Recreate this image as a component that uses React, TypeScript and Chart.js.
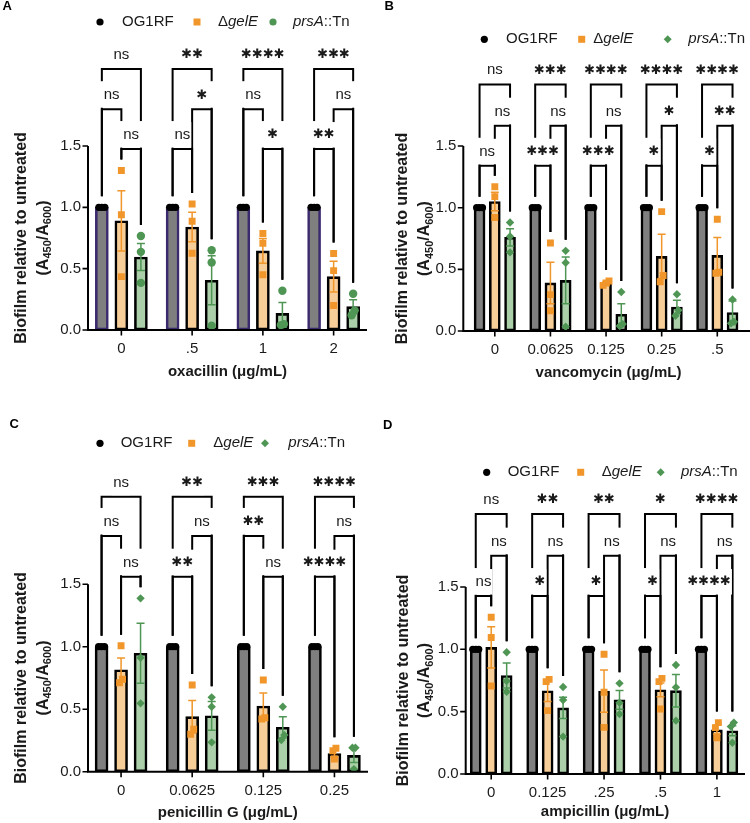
import React, { useEffect, useRef } from 'react';
import { Chart, registerables } from 'chart.js';

Chart.register(...registerables);

const FONT = '"Liberation Sans", Arial, Helvetica, sans-serif';
const STAR_FONT = '"DejaVu Sans", sans-serif';
Chart.defaults.font.family = FONT;

// ---------- shared ----------
const LEGEND_PARTS: [string, boolean][][] = [
  [['OG1RF', false]],
  [['Δ', false], ['gelE', true]],
  [['prsA', true], ['::Tn', false]],
];
const Y_TICKS = [0, 0.5, 1.0, 1.5];
const Y_TICK_LABELS = ['0.0', '0.5', '1.0', '1.5'];
const Y_TITLE_LINE1 = 'Biofilm relative to untreated';
const Y_TITLE_LINE2: [string, boolean][] = [['(A', false], ['450', true], ['/A', false], ['600', true], [')', false]];

// ---------- A: oxacillin ----------
const A_CATEGORIES = ['0', '.5', '1', '2'];
const A_OG_MEAN = [1, 1, 1, 1];
const A_OG_SEM = [0, 0, 0, 0];
const A_OG_POINTS = [[1, 1, 1], [1, 1, 1], [1, 1, 1], [1, 1, 1]];
const A_GEL_MEAN = [0.89, 0.84, 0.645, 0.435];
const A_GEL_SEM = [0.245, 0.12, 0.1, 0.125];
const A_GEL_POINTS = [[1.3, 0.94, 0.435], [1.027, 0.887, 0.626], [0.787, 0.707, 0.45], [0.624, 0.484, 0.2]];
const A_PRS_MEAN = [0.595, 0.405, 0.135, 0.19];
const A_PRS_SEM = [0.11, 0.2, 0.09, 0.057];
const A_PRS_POINTS = [[0.766, 0.637, 0.384], [0.65, 0.55, 0.035], [0.32, 0.04, 0.048], [0.296, 0.12, 0.16]];
const A_SIG_OG_PRS = ['ns', '**', '****', '***'];
const A_SIG_OG_GEL = ['ns', 'ns', 'ns', '**'];
const A_SIG_GEL_PRS = ['ns', '*', '*', 'ns'];
const A_OG_GEL_TIER = [2, 3, 2, 3];
const A_TIERS = [2.128, 1.8, 1.475];

// ---------- B: vancomycin ----------
const B_CATEGORIES = ['0', '0.0625', '0.125', '0.25', '.5'];
const B_OG_MEAN = [1, 1, 1, 1, 1];
const B_OG_SEM = [0, 0, 0, 0, 0];
const B_OG_POINTS = [[1, 1, 1], [1, 1, 1], [1, 1, 1], [1, 1, 1], [1, 1, 1]];
const B_GEL_MEAN = [1.05, 0.39, 0.385, 0.605, 0.613];
const B_GEL_SEM = [0.075, 0.168, 0.012, 0.18, 0.146];
const B_GEL_POINTS = [[1.17, 1.09, 0.92], [0.713, 0.295, 0.164], [0.405, 0.39, 0.37], [0.968, 0.45, 0.4], [0.906, 0.477, 0.469]];
const B_PRS_MEAN = [0.76, 0.41, 0.135, 0.195, 0.15];
const B_PRS_SEM = [0.07, 0.19, 0.085, 0.055, 0.094];
const B_PRS_POINTS = [[0.88, 0.767, 0.638], [0.65, 0.553, 0.035], [0.316, 0.04, 0.056], [0.298, 0.169, 0.123], [0.255, 0.075, 0.062]];
const B_SIG_OG_PRS = ['ns', '***', '****', '****', '****'];
const B_SIG_OG_GEL = ['ns', '***', '***', '*', '*'];
const B_SIG_GEL_PRS = ['ns', 'ns', 'ns', '*', '**'];
const B_OG_GEL_TIER = [3, 3, 3, 3, 3];
const B_TIERS = [2.0, 1.665, 1.34];

// ---------- C: penicillin G ----------
const C_CATEGORIES = ['0', '0.0625', '0.125', '0.25'];
const C_OG_MEAN = [1, 1, 1, 1];
const C_OG_SEM = [0, 0, 0, 0];
const C_OG_POINTS = [[1, 1, 1], [1, 1, 1], [1, 1, 1], [1, 1, 1]];
const C_GEL_MEAN = [0.815, 0.44, 0.525, 0.145];
const C_GEL_SEM = [0.095, 0.13, 0.105, 0.03];
const C_GEL_POINTS = [[1.008, 0.712, 0.739], [0.693, 0.299, 0.339], [0.733, 0.421, 0.432], [0.187, 0.101, 0.168]];
const C_PRS_MEAN = [0.947, 0.447, 0.355, 0.13];
const C_PRS_SEM = [0.24, 0.115, 0.085, 0.057];
const C_PRS_POINTS = [[1.387, 0.912, 0.547], [0.595, 0.52, 0.235], [0.52, 0.293, 0.253], [0.192, 0.192, 0.021]];
const C_SIG_OG_PRS = ['ns', '**', '***', '****'];
const C_SIG_OG_GEL = ['ns', '**', '**', '****'];
const C_SIG_GEL_PRS = ['ns', 'ns', 'ns', 'ns'];
const C_OG_GEL_TIER = [2, 3, 2, 3];
const C_TIERS = [2.2, 1.886, 1.56];

// ---------- D: ampicillin ----------
const D_CATEGORIES = ['0', '0.125', '.25', '.5', '1'];
const D_OG_MEAN = [1, 1, 1, 1, 1];
const D_OG_SEM = [0, 0, 0, 0, 0];
const D_OG_POINTS = [[1, 1, 1], [1, 1, 1], [1, 1, 1], [1, 1, 1], [1, 1, 1]];
const D_GEL_MEAN = [1.015, 0.667, 0.665, 0.675, 0.355];
const D_GEL_SEM = [0.165, 0.085, 0.17, 0.055, 0.035];
const D_GEL_POINTS = [[1.257, 1.094, 0.706], [0.759, 0.741, 0.508], [0.96, 0.655, 0.374], [0.767, 0.741, 0.521], [0.412, 0.372, 0.291]];
const D_PRS_MEAN = [0.79, 0.53, 0.595, 0.668, 0.347];
const D_PRS_SEM = [0.1, 0.085, 0.075, 0.13, 0.04];
const D_PRS_POINTS = [[0.976, 0.746, 0.66], [0.698, 0.594, 0.3], [0.727, 0.572, 0.481], [0.874, 0.695, 0.428], [0.412, 0.38, 0.251]];
const D_SIG_OG_PRS = ['ns', '**', '**', '*', '****'];
const D_SIG_OG_GEL = ['ns', '*', '*', '*', '****'];
const D_SIG_GEL_PRS = ['ns', 'ns', 'ns', 'ns', 'ns'];
const D_OG_GEL_TIER = [3, 3, 3, 3, 3];
const D_TIERS = [2.085, 1.751, 1.427];

// ---------- styles ----------
const POINT_COLORS = ['#000000', '#F0962A', '#4F9655'];
const BAR_FILLS = ['#7F7F7F', '#F8CE98', '#ABD0A9'];
const ERR_COLORS = ['#000000', '#F0962A', '#4F9655'];
const TEXT = '#1a1a1a';
const Y_MAX = 2.5;

type Spec = {
  letter: string; letterX: number; letterY: number;
  left: number; top: number; w: number; h: number;
  axisX: number; axisRight: number; areaLeft: number; areaRight: number; bottom: number; ppu: number;
  categories: string[]; xTitle: string; xTitleY: number;
  means: number[][]; sems: number[][]; points: number[][][];
  sigTop: string[]; sigOgGel: string[]; sigGelPrs: string[]; ogGelTier: number[]; tiers: number[];
  legendY: number; legendX: number[]; titleX: number[];
  barStep: number; barPx: number; prsShape: string; ogBorder: string;
};

const PANELS: Spec[] = [
  {
    letter: 'A', letterX: 2.5, letterY: 6.5, left: 0, top: 0, w: 375, h: 415,
    axisX: 88, axisRight: 367, areaLeft: 86, areaRight: 369, bottom: 330, ppu: 122.67,
    categories: A_CATEGORIES, xTitle: 'oxacillin (μg/mL)', xTitleY: 372,
    means: [A_OG_MEAN, A_GEL_MEAN, A_PRS_MEAN], sems: [A_OG_SEM, A_GEL_SEM, A_PRS_SEM],
    points: [A_OG_POINTS, A_GEL_POINTS, A_PRS_POINTS],
    sigTop: A_SIG_OG_PRS, sigOgGel: A_SIG_OG_GEL, sigGelPrs: A_SIG_GEL_PRS, ogGelTier: A_OG_GEL_TIER, tiers: A_TIERS,
    legendY: 22, legendX: [100, 122, 197, 218, 273, 293], titleX: [21.7, 43.3],
    barStep: 0.276, barPx: 13, prsShape: 'circle', ogBorder: '#3C2A6E',
  },
  {
    letter: 'B', letterX: 9.5, letterY: 6.5, left: 375, top: 0, w: 375, h: 415,
    axisX: 88.3, axisRight: 375, areaLeft: 92, areaRight: 375, bottom: 331, ppu: 123.3,
    categories: B_CATEGORIES, xTitle: 'vancomycin (μg/mL)', xTitleY: 373.3,
    means: [B_OG_MEAN, B_GEL_MEAN, B_PRS_MEAN], sems: [B_OG_SEM, B_GEL_SEM, B_PRS_SEM],
    points: [B_OG_POINTS, B_GEL_POINTS, B_PRS_POINTS],
    sigTop: B_SIG_OG_PRS, sigOgGel: B_SIG_OG_GEL, sigGelPrs: B_SIG_GEL_PRS, ogGelTier: B_OG_GEL_TIER, tiers: B_TIERS,
    legendY: 39.3, legendX: [109.3, 131, 206.7, 218.3, 292.7, 313.3], titleX: [28, 50],
    barStep: 0.274, barPx: 11, prsShape: 'rectRot', ogBorder: '#000000',
  },
  {
    letter: 'C', letterX: 9.5, letterY: 9.5, left: 0, top: 415, w: 375, h: 408,
    axisX: 88, axisRight: 368, areaLeft: 85.5, areaRight: 370, bottom: 356.7, ppu: 125,
    categories: C_CATEGORIES, xTitle: 'penicillin G (μg/mL)', xTitleY: 398,
    means: [C_OG_MEAN, C_GEL_MEAN, C_PRS_MEAN], sems: [C_OG_SEM, C_GEL_SEM, C_PRS_SEM],
    points: [C_OG_POINTS, C_GEL_POINTS, C_PRS_POINTS],
    sigTop: C_SIG_OG_PRS, sigOgGel: C_SIG_OG_GEL, sigGelPrs: C_SIG_GEL_PRS, ogGelTier: C_OG_GEL_TIER, tiers: C_TIERS,
    legendY: 28.3, legendX: [100, 120.7, 191.7, 213.3, 265, 288.3], titleX: [21.7, 43.3],
    barStep: 0.274, barPx: 13, prsShape: 'rectRot', ogBorder: '#000000',
  },
  {
    letter: 'D', letterX: 8, letterY: 10, left: 375, top: 415, w: 375, h: 408,
    axisX: 90.7, axisRight: 370, areaLeft: 88, areaRight: 372, bottom: 359, ppu: 124.7,
    categories: D_CATEGORIES, xTitle: 'ampicillin (μg/mL)', xTitleY: 396.7,
    means: [D_OG_MEAN, D_GEL_MEAN, D_PRS_MEAN], sems: [D_OG_SEM, D_GEL_SEM, D_PRS_SEM],
    points: [D_OG_POINTS, D_GEL_POINTS, D_PRS_POINTS],
    sigTop: D_SIG_OG_PRS, sigOgGel: D_SIG_OG_GEL, sigGelPrs: D_SIG_GEL_PRS, ogGelTier: D_OG_GEL_TIER, tiers: D_TIERS,
    legendY: 57.3, legendX: [111.7, 132.7, 205.7, 226.7, 285.7, 306], titleX: [28.3, 50],
    barStep: 0.274, barPx: 11, prsShape: 'rectRot', ogBorder: '#000000',
  },
];

function jitterOffsets(vals: number[], tol: number): number[] {
  const idx = vals.map((_, i) => i).sort((a, b) => vals[a] - vals[b]);
  const res = new Array(vals.length).fill(0);
  let start = 0;
  while (start < idx.length) {
    let end = start;
    while (end + 1 < idx.length && vals[idx[end + 1]] - vals[idx[end]] < tol) end++;
    const k = end - start + 1;
    for (let j = start; j <= end; j++) res[idx[j]] = j - start - (k - 1) / 2;
    start = end + 1;
  }
  return res;
}

function drawMarker(ctx: CanvasRenderingContext2D, shape: string, x: number, y: number, color: string) {
  ctx.save();
  ctx.fillStyle = color;
  ctx.beginPath();
  if (shape === 'circle') ctx.arc(x, y, 3.6, 0, Math.PI * 2);
  else if (shape === 'rect') ctx.rect(x - 3.5, y - 3.5, 7, 7);
  else { ctx.moveTo(x, y - 4); ctx.lineTo(x + 4, y); ctx.lineTo(x, y + 4); ctx.lineTo(x - 4, y); ctx.closePath(); }
  ctx.fill();
  ctx.restore();
}

function drawRich(ctx: CanvasRenderingContext2D, parts: [string, boolean][], x: number, y: number, size: number) {
  let cx = x;
  for (const [t, it] of parts) {
    ctx.font = `${it ? 'italic ' : ''}${size}px ${FONT}`;
    ctx.fillText(t, cx, y);
    cx += ctx.measureText(t).width;
  }
}

function makePlugin(spec: Spec) {
  return {
    id: 'prismDeco' + spec.letter,
    afterDatasetDraw(chart: any, args: any) {
      const k = args.index;
      if (k > 2) return;
      const ctx: CanvasRenderingContext2D = chart.ctx;
      const y = chart.scales.y;
      ctx.save();
      ctx.strokeStyle = ERR_COLORS[k];
      ctx.lineWidth = 1.5;
      args.meta.data.forEach((el: any, g: number) => {
        const sem = spec.sems[k][g];
        if (!sem) return;
        const m = spec.means[k][g];
        const yt = y.getPixelForValue(m + sem);
        const yb = y.getPixelForValue(Math.max(0, m - sem));
        ctx.beginPath();
        ctx.moveTo(el.x, yt); ctx.lineTo(el.x, yb);
        ctx.moveTo(el.x - 4, yt); ctx.lineTo(el.x + 4, yt);
        ctx.moveTo(el.x - 4, yb); ctx.lineTo(el.x + 4, yb);
        ctx.stroke();
      });
      ctx.restore();
    },
    afterDraw(chart: any) {
      const ctx: CanvasRenderingContext2D = chart.ctx;
      const y = chart.scales.y;
      const x = chart.scales.x;
      const y0 = y.getPixelForValue(0);
      const yTop = y.getPixelForValue(Y_TICKS[Y_TICKS.length - 1]);
      ctx.save();
      // axes
      ctx.strokeStyle = '#000';
      ctx.lineWidth = 2;
      ctx.beginPath();
      ctx.moveTo(spec.axisX, y0 + 1); ctx.lineTo(spec.axisX, yTop);
      ctx.moveTo(spec.axisX - 1, y0); ctx.lineTo(spec.axisRight, y0);
      ctx.stroke();
      ctx.lineWidth = 1.6;
      ctx.beginPath();
      Y_TICKS.forEach((v) => {
        const py = y.getPixelForValue(v);
        ctx.moveTo(spec.axisX - 5.5, py); ctx.lineTo(spec.axisX, py);
      });
      spec.categories.forEach((_, i) => {
        const px = x.getPixelForValue(i);
        ctx.moveTo(px, y0); ctx.lineTo(px, y0 + 5.5);
      });
      ctx.stroke();

      // brackets
      const metas = [0, 1, 2].map((i) => chart.getDatasetMeta(i));
      const labels: { x: number; y: number; t: string }[] = [];
      spec.categories.forEach((_, g) => {
        const xs = metas.map((m: any) => m.data[g].x);
        const legEnd = [0, 1, 2].map((s) => {
          const mx = Math.max(...spec.points[s][g], spec.means[s][g] + spec.sems[s][g]);
          return y.getPixelForValue(mx) - 11;
        });
        const t01 = spec.ogGelTier[g];
        const t12 = t01 === 2 ? 3 : 2;
        const list = [
          { a: 0, b: 2, tier: 1, t: spec.sigTop[g] },
          { a: 0, b: 1, tier: t01, t: spec.sigOgGel[g] },
          { a: 1, b: 2, tier: t12, t: spec.sigGelPrs[g] },
        ];
        for (const br of list) {
          const ly = y.getPixelForValue(spec.tiers[br.tier - 1]);
          const xl = xs[br.a];
          const xr = xs[br.b];
          ctx.fillStyle = '#fff';
          ctx.fillRect(xl - 2.5, ly - 28, xr - xl + 5, 26.5);
          ctx.strokeStyle = '#000';
          ctx.lineWidth = 2;
          ctx.lineJoin = 'miter';
          ctx.beginPath();
          ctx.moveTo(xl, Math.max(legEnd[br.a], ly));
          ctx.lineTo(xl, ly);
          ctx.lineTo(xr, ly);
          ctx.lineTo(xr, Math.max(legEnd[br.b], ly));
          ctx.stroke();
          labels.push({ x: (xl + xr) / 2, y: ly, t: br.t });
        }
      });
      ctx.textAlign = 'center';
      for (const l of labels) {
        const stars = l.t !== 'ns';
        const txt = stars ? l.t.replace(/\*/g, '\u2731') : l.t;
        ctx.font = stars ? `bold 13px ${STAR_FONT}` : `15px ${FONT}`;
        const w = ctx.measureText(txt).width;
        ctx.fillStyle = '#fff';
        ctx.fillRect(l.x - w / 2 - 1, l.y - 27, w + 2, 25.5);
        ctx.fillStyle = TEXT;
        if (stars) { ctx.textBaseline = 'middle'; ctx.fillText(txt, l.x, l.y - 14); }
        else { ctx.textBaseline = 'alphabetic'; ctx.fillText(txt, l.x, l.y - 10); }
      }

      // legend
      ctx.textAlign = 'left';
      ctx.textBaseline = 'middle';
      const lx = spec.legendX;
      drawMarker(ctx, 'circle', lx[0], spec.legendY, POINT_COLORS[0]);
      drawMarker(ctx, 'rect', lx[2], spec.legendY, POINT_COLORS[1]);
      drawMarker(ctx, spec.prsShape, lx[4], spec.legendY, POINT_COLORS[2]);
      ctx.fillStyle = TEXT;
      drawRich(ctx, LEGEND_PARTS[0], lx[1], spec.legendY, 15);
      drawRich(ctx, LEGEND_PARTS[1], lx[3], spec.legendY, 15);
      drawRich(ctx, LEGEND_PARTS[2], lx[5], spec.legendY, 15);

      // panel letter
      ctx.font = `bold 13px ${FONT}`;
      ctx.fillStyle = '#000';
      ctx.fillText(spec.letter, spec.letterX, spec.letterY);

      // x title
      ctx.textAlign = 'center';
      ctx.font = `bold 15px ${FONT}`;
      ctx.fillStyle = TEXT;
      ctx.fillText(spec.xTitle, (spec.areaLeft + spec.areaRight) / 2, spec.xTitleY);

      // y title
      const cy = (y0 + yTop) / 2;
      ctx.save();
      ctx.translate(spec.titleX[0], cy);
      ctx.rotate(-Math.PI / 2);
      ctx.font = `bold 16px ${FONT}`;
      ctx.fillText(Y_TITLE_LINE1, 0, 0);
      ctx.restore();
      ctx.save();
      ctx.translate(spec.titleX[1], cy);
      ctx.rotate(-Math.PI / 2);
      ctx.textAlign = 'left';
      let total = 0;
      for (const [t, sub] of Y_TITLE_LINE2) {
        ctx.font = sub ? `bold 11px ${FONT}` : `bold 16px ${FONT}`;
        total += ctx.measureText(t).width;
      }
      let cx = -total / 2;
      for (const [t, sub] of Y_TITLE_LINE2) {
        ctx.font = sub ? `bold 11px ${FONT}` : `bold 16px ${FONT}`;
        ctx.fillText(t, cx, sub ? 4.5 : 0);
        cx += ctx.measureText(t).width;
      }
      ctx.restore();
      ctx.restore();
    },
  };
}

function Panel({ spec }: { spec: Spec }) {
  const ref = useRef<HTMLCanvasElement>(null);
  useEffect(() => {
    const canvas = ref.current;
    if (!canvas) return;
    const n = spec.categories.length;
    const groupPx = (spec.areaRight - spec.areaLeft) / n;
    const shapes = ['circle', 'rect', spec.prsShape];
    const radii = [3.6, 4.9, 4.2];
    const barSets = [0, 1, 2].map((k) => ({
      type: 'bar' as const,
      label: LEGEND_PARTS[k].map((p) => p[0]).join(''),
      data: spec.means[k].map((m, g) => ({ x: g + (k - 1) * spec.barStep, y: m })),
      backgroundColor: BAR_FILLS[k],
      borderColor: k === 0 ? spec.ogBorder : '#000000',
      borderWidth: 2.6,
      borderSkipped: false,
      grouped: false,
      barThickness: spec.barPx,
      order: 2,
    }));
    const pointSets = [0, 1, 2].map((k) => ({
      type: 'scatter' as const,
      label: 'pts' + k,
      data: spec.points[k].flatMap((pts, g) => {
        const off = jitterOffsets(pts, 0.06);
        return pts.map((v, j) => ({ x: g + (k - 1) * spec.barStep + (off[j] * 3) / groupPx, y: v }));
      }),
      pointStyle: shapes[k],
      pointRadius: radii[k],
      pointBackgroundColor: POINT_COLORS[k],
      pointBorderWidth: 0,
      order: 1,
    }));
    const chart = new Chart(canvas, {
      type: 'bar',
      data: { datasets: [...barSets, ...pointSets] as any },
      plugins: [makePlugin(spec)],
      options: {
        responsive: false,
        animation: false,
        devicePixelRatio: 1,
        events: [],
        layout: { padding: { top: spec.bottom - Y_MAX * spec.ppu, right: spec.w - spec.areaRight, left: 0, bottom: 0 } },
        plugins: { legend: { display: false }, tooltip: { enabled: false } },
        scales: {
          x: {
            type: 'linear',
            offset: false,
            min: -0.5,
            max: n - 0.5,
            grid: { display: false, drawTicks: false },
            border: { display: false },
            ticks: {
              color: TEXT,
              font: { size: 15, family: FONT },
              padding: 10,
              autoSkip: false,
              maxRotation: 0,
              callback: (_v: any, i: number) => spec.categories[i],
            },
            afterBuildTicks: (s: any) => { s.ticks = spec.categories.map((_, i) => ({ value: i })); },
            afterFit: (s: any) => { s.height = spec.h - spec.bottom; },
          },
          y: {
            min: 0,
            max: Y_MAX,
            grid: { display: false, drawTicks: false },
            border: { display: false },
            ticks: {
              color: TEXT,
              font: { size: 15, family: FONT },
              padding: spec.areaLeft - spec.axisX + 7,
              callback: (_v: any, i: number) => Y_TICK_LABELS[i],
            },
            afterBuildTicks: (s: any) => { s.ticks = Y_TICKS.map((v) => ({ value: v })); },
            afterFit: (s: any) => { s.width = spec.areaLeft; },
          },
        } as any,
      },
    });
    return () => chart.destroy();
  }, [spec]);
  return (
    <canvas
      ref={ref}
      width={spec.w}
      height={spec.h}
      style={{ position: 'absolute', left: spec.left, top: spec.top, width: spec.w, height: spec.h }}
    />
  );
}

export default function App() {
  return (
    <div style={{ position: 'absolute', left: 0, top: 0, width: 750, height: 823, background: '#fff' }}>
      {PANELS.map((p) => (
        <Panel key={p.letter} spec={p} />
      ))}
    </div>
  );
}
